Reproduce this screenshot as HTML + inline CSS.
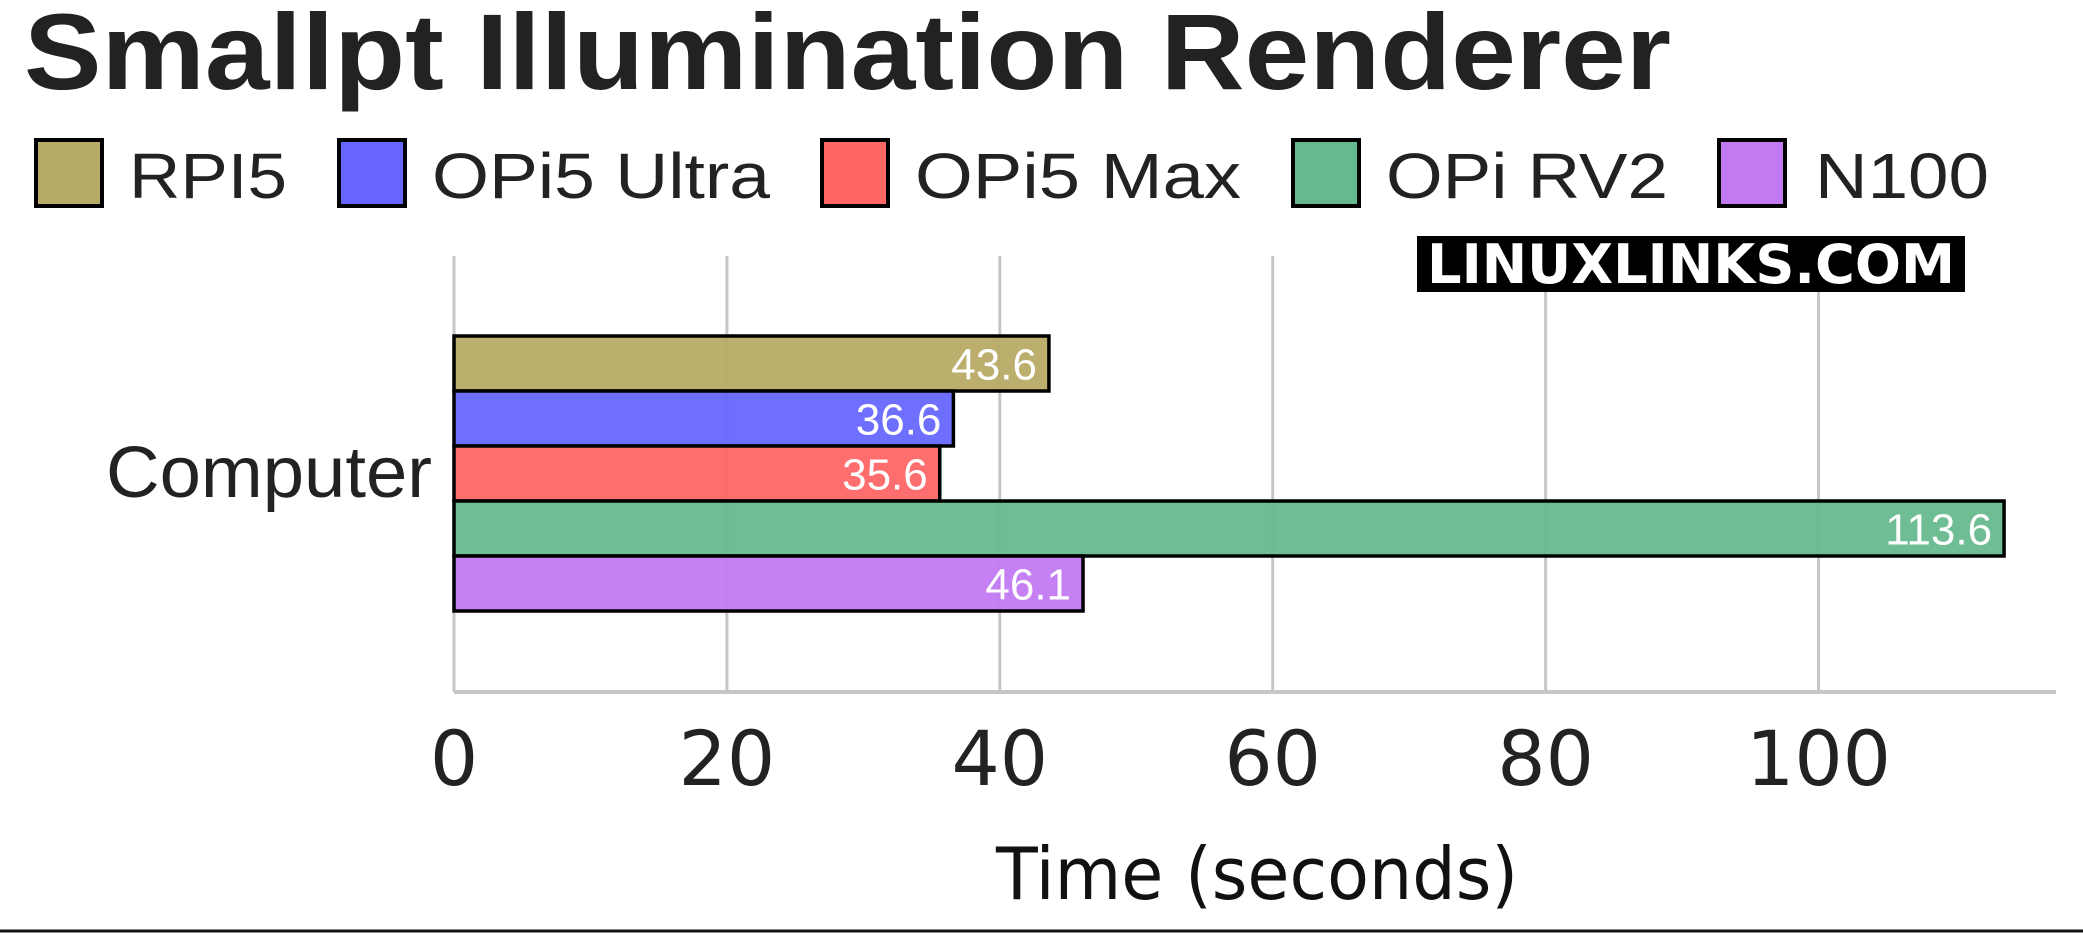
<!DOCTYPE html>
<html><head><meta charset="utf-8"><style>
html,body{margin:0;padding:0;background:#fff;}
svg{display:block;font-family:"Liberation Sans",sans-serif;}
</style></head><body>
<svg id="chart" width="2083" height="935" viewBox="0 0 2083 935">
<text x="24" y="89" font-size="108" font-weight="bold" fill="#222" textLength="1647" lengthAdjust="spacingAndGlyphs">Smallpt Illumination Renderer</text>
<g id="legend"></g>
<g id="grid"></g>
<g id="bars"></g>
<g id="xticks"></g>
<rect x="1417" y="236" width="548" height="56" fill="#000"/>
<text x="1691" y="283" font-size="54" font-weight="bold" fill="#fff" text-anchor="middle" textLength="528" lengthAdjust="spacingAndGlyphs" font-family="DejaVu Sans, sans-serif">LINUXLINKS.COM</text>
<text x="432" y="497" font-size="72" fill="#222" text-anchor="end" textLength="326" lengthAdjust="spacingAndGlyphs">Computer</text>
<text x="1257" y="899" font-size="72" fill="#111" text-anchor="middle" textLength="522" lengthAdjust="spacingAndGlyphs" font-family="DejaVu Sans, sans-serif">Time (seconds)</text>
<line x1="0" y1="931" x2="2083" y2="931" stroke="#111" stroke-width="3"/>
</svg>
<script>
const series = ["RPI5","OPi5 Ultra","OPi5 Max","OPi RV2","N100"];
const values = [43.6,36.6,35.6,113.6,46.1];
const labels = ["43.6","36.6","35.6","113.6","46.1"];
const ticks = [0,20,40,60,80,100];
const colors = ["#b8ab66","#6666ff","#ff6666","#66b98e","#c27af2"];
const NS="http://www.w3.org/2000/svg";
const X0=454, PX=13.645, TOP=256, BOT=692, BAR0=336, BH=55;
const xs=v=>X0+v*PX;
function mk(t,a,p){const e=document.createElementNS(NS,t);for(const k in a)e.setAttribute(k,a[k]);p.appendChild(e);return e;}
const grid=document.getElementById('grid');
ticks.forEach((t,i)=>{
  const l=mk('line',{x1:xs(t),y1:TOP,x2:xs(t),y2:BOT,stroke:'#c6c6c6','stroke-width':3},grid);
  
  
  const tx=mk('text',{x:xs(t),y:785,'font-size':76,fill:'#222','text-anchor':'middle','font-family':'DejaVu Sans, sans-serif'},document.getElementById('xticks'));
  tx.textContent=t;
  
  
});
const ax=mk('line',{x1:X0,y1:BOT,x2:2056,y2:BOT,stroke:'#c6c6c6','stroke-width':4},grid);


const bars=document.getElementById('bars');
values.forEach((v,i)=>{
  const y=BAR0+i*BH;
  const r=mk('rect',{x:X0,y:y,width:xs(v)-X0,height:BH,fill:colors[i],'fill-opacity':0.95,stroke:'#000','stroke-width':3.5},bars);
  
  
  const t=mk('text',{x:xs(v)-12,y:y+BH/2+16,'font-size':44,fill:'#fff','text-anchor':'end'},bars);
  t.textContent=labels[i];
  
  
});
const legend=document.getElementById('legend');
const lbx=[36,339,822,1293,1719], ltx=[129,432,915,1386,1815], lte=[287,770,1241,1668,1989];
series.forEach((s,i)=>{
  const g=mk('g',{},legend);
  
  
  const r=mk('rect',{x:lbx[i],y:140,width:66,height:66,fill:colors[i],stroke:'#000','stroke-width':4},g);
  
  
  const t=mk('text',{x:ltx[i],y:198,'font-size':64,fill:'#222',textLength:lte[i]-ltx[i],lengthAdjust:'spacingAndGlyphs'},g);
  t.textContent=s;
  
  
});
</script>
</body></html>
